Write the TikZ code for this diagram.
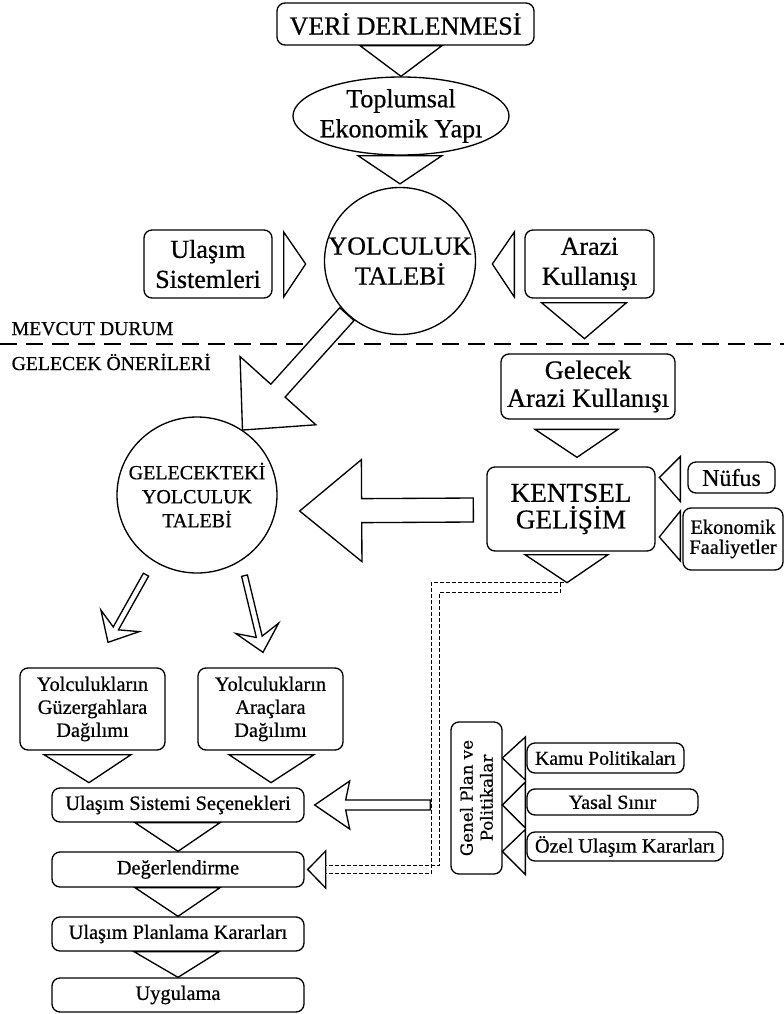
\documentclass[tikz,border=0pt]{standalone}
\usepackage{fontspec}
\setmainfont[FakeBold=0.6]{Liberation Serif}
\newfontfamily\genelfont[FakeBold=0.6]{DejaVu Serif}
\usetikzlibrary{calc, shapes.geometric}
\tikzstyle{box} = [draw, rounded corners=6pt, align=center, inner sep=0pt]
\tikzstyle{oval} = [draw, ellipse, inner sep=0pt]
\tikzstyle{tri} = [draw, line join=miter]
\tikzstyle{fat} = [draw, fill=white, line join=miter]
\tikzstyle{dline} = [dash pattern=on 3pt off 1.5pt, line width=0.7pt]
\tikzstyle{bigtext} = [font=\fontsize{19.5}{22.5}\selectfont]
\tikzstyle{smalltext} = [font=\fontsize{15.3}{17.25}\selectfont]

% hollow block arrow: start, tip, shaft half width, head length, head half width, sweep
\newcommand{\fatarrow}[6]{%
  \path #1 coordinate (fa-a) #2 coordinate (fa-b);
  \coordinate (fa-h) at ($(fa-b)!#4!(fa-a)$);
  \coordinate (fa-k) at ($(fa-b)!#4+#6!(fa-a)$);
  \draw[fat] ($(fa-a)!#3!90:(fa-b)$) -- ($(fa-h)!#3!90:(fa-b)$) -- ($(fa-k)!#5!90:(fa-b)$)
    -- (fa-b) -- ($(fa-k)!#5!-90:(fa-b)$) -- ($(fa-h)!#3!-90:(fa-b)$) -- ($(fa-a)!#3!-90:(fa-b)$) -- cycle;
}

\begin{document}
\begin{tikzpicture}[x=0.75pt, y=-0.75pt, line width=1pt]
    \useasboundingbox (0,0) rectangle (784,1014);

    % mevcut durum
    \node[box, bigtext, minimum width=192.75pt, minimum height=31.5pt] (veri) at (405.5,24) {VERİ DERLENMESİ};
    \node[oval, minimum width=162pt, minimum height=58.5pt] (toplum) at (401,116) {};
    \node[bigtext, align=center] (toplum-t) at (toplum) {Toplumsal\\Ekonomik Yapı};
    \node[oval, minimum width=113.25pt, minimum height=110.25pt] (yolc) at (400,261) {};
    \node[bigtext, align=center] (yolc-t) at (yolc) {YOLCULUK\\TALEBİ};
    \node[box, bigtext, minimum width=96pt, minimum height=51pt] (ulasim) at (208,264) {Ulaşım\\Sistemleri};
    \node[box, bigtext, minimum width=96.75pt, minimum height=51pt] (arazi) at (589.5,264) {Arazi\\Kullanışı};

    \draw[tri] ($(toplum.north |- veri.south)+(-41,0)$) -- ($(toplum.north |- veri.south)+(41,0)$) -- (toplum.north) -- cycle;
    \draw[tri] ($(yolc.north |- toplum.south)+(-42,0)$) -- ($(yolc.north |- toplum.south)+(42,0)$) -- ($(yolc.north)+(0,-3)$) -- cycle;
    \draw[tri] ($(ulasim.east)+(11,-32)$) -- ($(ulasim.east)+(11,33)$) -- ($(ulasim.east)+(33,0)$) -- cycle;
    \draw[tri] ($(arazi.west)+(-10,-32)$) -- ($(arazi.west)+(-10,33)$) -- ($(arazi.west)+(-32,0)$) -- cycle;
    \draw[tri] ($(arazi.south)+(-48,4)$) -- ($(arazi.south)+(37,4)$) -- ($(arazi.south)+(-5,40)$) -- cycle;

    % ayrim cizgisi
    \node[anchor=base west, inner sep=0pt, font=\fontsize{14.8}{17}\selectfont] (mevcut) at (11,335) {MEVCUT DURUM};
    \node[anchor=base west, inner sep=0pt, font=\fontsize{14.8}{17}\selectfont] (oneri) at (11,370) {GELECEK ÖNERİLERİ};
    \draw[dash pattern=on 12.75pt off 6.75pt] (0,344) -- (784,344);

    % gelecek
    \node[box, minimum width=130.5pt, minimum height=48.75pt, font=\fontsize{19.8}{21}\selectfont] (gelarazi) at (588,386.5) {Gelecek\\Arazi Kullanışı};
    \node[box, minimum width=126pt, minimum height=63pt, font=\fontsize{20.4}{20}\selectfont] (kentsel) at (571,509) {KENTSEL\\GELİŞİM};
    \node[box, minimum width=65.25pt, minimum height=23.25pt, font=\fontsize{18}{19}\selectfont] (nufus) at (731.5,477.5) {Nüfus};
    \node[box, minimum width=75pt, minimum height=46.5pt, font=\fontsize{15.3}{15}\selectfont] (ekon) at (733,539) {Ekonomik\\Faaliyetler};
    \node[oval, minimum width=120pt, minimum height=117pt] (gelec) at (197,495) {};
    \node[align=center, font=\fontsize{15}{18}\selectfont] (gelec-t) at (gelec) {GELECEKTEKİ\\YOLCULUK\\TALEBİ};

    \draw[tri] ($(kentsel.north)+(-36,-37)$) -- ($(kentsel.north)+(47,-37)$) -- ($(kentsel.north)+(6,-9)$) -- cycle;
    \draw[tri] ($(nufus.west)+(-7,-21)$) -- ($(nufus.west)+(-7,24)$) -- ($(nufus.west)+(-28,0)$) -- cycle;
    \draw[tri] ($(ekon.west)+(-2,-28)$) -- ($(ekon.west)+(-2,22)$) -- ($(ekon.west)+(-23,-2)$) -- cycle;

    \fatarrow{(yolc.225)}{(gelec.55)}{7.2pt}{39.75pt}{38.25pt}{0pt}
    \fatarrow{($(kentsel.west)+(-13,1)$)}{($(gelec.east)+(22,16)$)}{9pt}{46.5pt}{38.25pt}{0pt}

    % planlama
    \node[box, smalltext, minimum width=108.75pt, minimum height=61.5pt] (guzer) at (92.5,709) {Yolculukların\\Güzergahlara\\Dağılımı};
    \node[box, smalltext, minimum width=108.75pt, minimum height=61.5pt] (arac) at (270.5,709) {Yolculukların\\Araçlara\\Dağılımı};
    \node[box, smalltext, minimum width=189pt, minimum height=25.5pt] (secenek) at (178,805) {Ulaşım Sistemi Seçenekleri};
    \node[box, smalltext, minimum width=189pt, minimum height=26.25pt] (deger) at (178,869.5) {Değerlendirme};
    \node[box, smalltext, minimum width=189pt, minimum height=25.5pt] (karar) at (178,934) {Ulaşım Planlama Kararları};
    \node[box, smalltext, minimum width=189pt, minimum height=25.5pt] (uygula) at (178,995) {Uygulama};

    \fatarrow{($(gelec.south)+(-51,1)$)}{($(guzer.north)+(15.5,-25)$)}{2.25pt}{12pt}{16.5pt}{6.5pt}
    \fatarrow{($(gelec.south)+(47.5,2)$)}{($(arac.north)+(-7.5,-15)$)}{2.25pt}{12pt}{16.5pt}{6.5pt}

    \draw[tri] ($(guzer.south)+(-48.5,4)$) -- ($(guzer.south)+(38.5,4)$) -- ($(guzer.south)+(-3.5,32)$) -- cycle;
    \draw[tri] ($(arac.south)+(-41.5,4)$) -- ($(arac.south)+(43.5,4)$) -- ($(arac.south)+(0.5,32)$) -- cycle;
    \draw[tri] ($(secenek.south)+(-43,0)$) -- ($(secenek.south)+(42,0)$) -- (deger.north) -- cycle;
    \draw[tri] ($(deger.south)+(-43,0)$) -- ($(deger.south)+(42,0)$) -- (karar.north) -- cycle;
    \draw[tri] ($(karar.south)+(-44,0)$) -- ($(karar.south)+(41,0)$) -- (uygula.north) -- cycle;

    % genel plan
    \node[box, rotate=90, minimum width=114pt, minimum height=38.25pt, font=\genelfont\fontsize{12.5}{15}\selectfont] (genel) at (476.5,798) {Genel Plan ve\\Politikalar};
    \node[box, smalltext, minimum width=117.75pt, minimum height=22.5pt, font=\fontsize{14.8}{16}\selectfont] (kamu) at (605.5,758) {Kamu Politikaları};
    \node[box, smalltext, minimum width=128.25pt, minimum height=19.5pt, font=\fontsize{15}{16}\selectfont] (yasal) at (612.5,802) {Yasal Sınır};
    \node[box, smalltext, minimum width=147pt, minimum height=21.75pt, font=\fontsize{15.2}{16}\selectfont] (ozel) at (625,846.5) {Özel Ulaşım Kararları};

    \draw[tri] ($(kamu.west)+(-1,-21)$) -- ($(kamu.west)+(-1,22)$) -- ($(kamu.west)+(-24,0)$) -- cycle;
    \draw[tri] ($(yasal.west)+(-1,-20)$) -- ($(yasal.west)+(-1,26)$) -- ($(yasal.west)+(-24,3)$) -- cycle;
    \draw[tri] ($(ozel.west)+(-1,-17)$) -- ($(ozel.west)+(-1,28)$) -- ($(ozel.west)+(-24,5)$) -- cycle;

    % kesikli cift hat
    \coordinate (kdash) at ($(kentsel.south)+(-7,36)$);
    \coordinate (dcorner) at ($(genel.north |- deger.east)+(-15,0)$);
    \coordinate (gstart) at ($(genel.north |- secenek.east)+(-20,0)$);
    \draw[dline] ($(kdash)+(0,-5)$) -| ($(dcorner)+(-4,4)$) -- ($(deger.east)+(21,4)$);
    \draw[dline] ($(kdash)+(-4,-5)$) -- ($(kdash)+(-4,5)$) -| ($(dcorner)+(4,-4)$) -- ($(deger.east)+(21,-4)$);
    \draw[tri] ($(kentsel.south)+(-46,3)$) -- ($(kentsel.south)+(37,3)$) -- ($(kentsel.south)+(-4,31)$) -- cycle;
    \draw[tri] ($(deger.east)+(21,-18.5)$) -- ($(deger.east)+(21,18.5)$) -- ($(deger.east)+(3,0)$) -- cycle;
    \fatarrow{(gstart)}{($(secenek.east)+(10,0)$)}{3.75pt}{23.25pt}{18pt}{3pt}
  \end{tikzpicture}
\end{document}
